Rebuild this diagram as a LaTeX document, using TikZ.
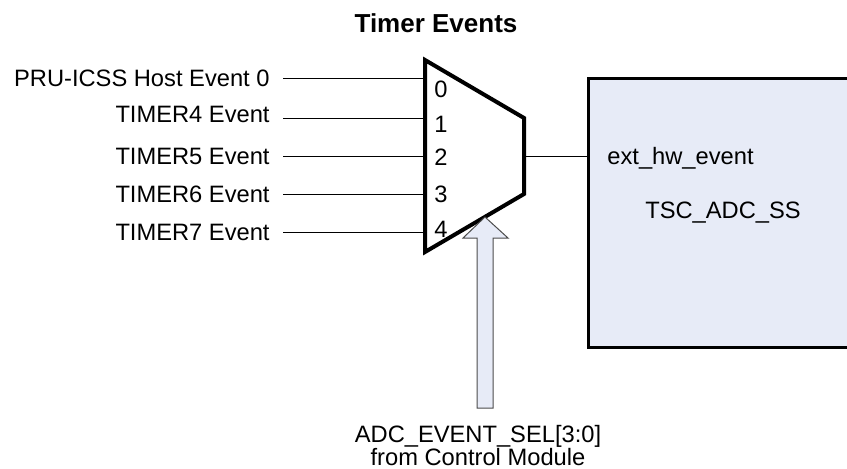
\documentclass[tikz,border=0pt]{standalone}
\usepackage{fontspec}
\setmainfont{Liberation Sans}
\usetikzlibrary{positioning}
\definecolor{boxblue}{RGB}{231,235,247}

\begin{document}
\begin{tikzpicture}[
            x=0.5pt, y=-0.5pt,
            evlabel/.style ={anchor=base east, inner xsep=6.5pt, inner ysep=0pt,
                             font=\fontsize{11.85}{14}\selectfont},
            selnum/.style  ={anchor=base, inner sep=0pt,
                             font=\fontsize{11.85}{14}\selectfont},
            plain/.style   ={inner sep=0pt, font=\fontsize{11.85}{14}\selectfont},
            wire/.style    ={line width=0.5pt},
            muxbody/.style ={draw=black, fill=white, line width=2pt, line join=miter},
            ssbox/.style   ={rectangle, draw=black, fill=boxblue, line width=1.5pt,
                             anchor=north west, outer sep=0pt, inner sep=0pt,
                             minimum width=136pt, minimum height=134.5pt},
            selarrow/.style={draw=black!70, fill=boxblue, line width=0.5pt}
        ]
        \useasboundingbox (0,0) rectangle (847,468);

        \node[font=\bfseries\fontsize{13}{15}\selectfont, anchor=base, inner sep=0pt]
            (title) at (436,32) {Timer Events};

        % mux
        \draw[muxbody] (425,60) -- (524,118) -- (524,194) -- (425,252) -- cycle;
        \foreach \i/\y in {0/78,1/118,2/156,3/194,4/232}
            \coordinate (in\i) at (425,\y);
        \coordinate (out) at (524,156);
        \coordinate (seltip) at (485,217);

        \node[evlabel] (ev0) at (283,86)  {PRU-ICSS Host Event 0};
        \node[evlabel] (ev1) at (283,122) {TIMER4 Event};
        \node[evlabel] (ev2) at (283,164) {TIMER5 Event};
        \node[evlabel] (ev3) at (283,202) {TIMER6 Event};
        \node[evlabel] (ev4) at (283,240) {TIMER7 Event};
        \foreach \i in {0,...,4}
            \draw[wire] (ev\i.east |- in\i) -- (in\i);

        \foreach \i/\y in {0/97,1/132,2/165,3/202,4/237}
            \node[selnum] (sel\i) at (441,\y) {\i};

        % subsystem
        \node[ssbox] (tsc) at (588,78) {};
        \node[plain, anchor=base west] (hwev) at (607,164) {ext\_hw\_event};
        \node[plain, anchor=base] (tscname) at (723,218) {TSC\_ADC\_SS};
        \draw[wire] (out) -- (tsc.west |- out);

        % select input
        \node[plain, anchor=base] (selsrc)  at (478,442) {ADC\_EVENT\_SEL[3:0]};
        \node[plain, anchor=base] (selsrc2) at (478,465) {from Control Module};
        \draw[selarrow] (seltip) -- ++(23,21) -- ++(-15,0) -- ++(0,170)
            -- ++(-16,0) -- ++(0,-170) -- ++(-14,0) -- cycle;
\end{tikzpicture}
\end{document}
